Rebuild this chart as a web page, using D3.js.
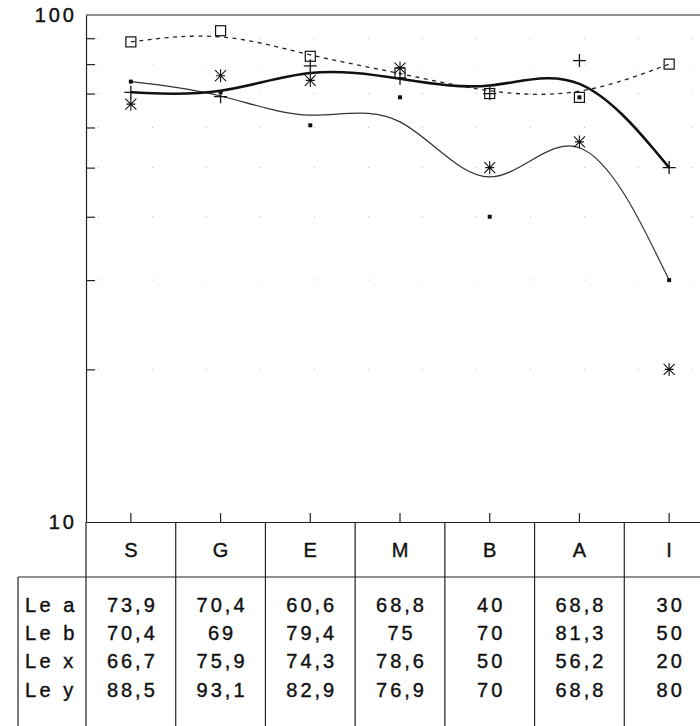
<!DOCTYPE html>
<html>
<head>
<meta charset="utf-8">
<script src="https://cdn.jsdelivr.net/npm/d3@7"></script>
<style>
  html, body { margin: 0; padding: 0; background: #fff; }
  svg { display: block; }
  text { font-family: 'Liberation Sans', Arial, sans-serif; fill: #111; }
</style>
</head>
<body>
<div id="chart"></div>
<script>
const categories = ['S', 'G', 'E', 'M', 'B', 'A', 'I'];
const rowLabels = ['Le a', 'Le b', 'Le x', 'Le y'];
const leA = [73.9, 70.4, 60.6, 68.8, 40, 68.8, 30];
const leB = [70.4, 69, 79.4, 75, 70, 81.3, 50];
const leX = [66.7, 75.9, 74.3, 78.6, 50, 56.2, 20];
const leY = [88.5, 93.1, 82.9, 76.9, 70, 68.8, 80];
const yTicks = [20, 30, 40, 50, 60, 70, 80, 90];
const yLabels = [100, 10];

const width = 700, height = 726;
const plotLeft = 86, plotTop = 15, plotBottom = 522;
const headerBottom = 577, labelLeft = 18;

const svg = d3.select('#chart').append('svg')
  .attr('width', width)
  .attr('height', height);

const x = d3.scaleBand().domain(categories).range([plotLeft, 714]);
const y = d3.scaleLog().domain([10, 100]).range([plotBottom, plotTop]);
const cx = c => x(c) + x.bandwidth() / 2;

// faint dotted grid (mostly lost in the print)
svg.append('g')
  .selectAll('line')
  .data(yTicks)
  .join('line')
  .attr('x1', plotLeft + 12).attr('x2', 714)
  .attr('y1', d => y(d)).attr('y2', d => y(d))
  .attr('stroke', '#bbb')
  .attr('stroke-width', 1)
  .attr('stroke-dasharray', '1,53');

// frame
svg.append('line')
  .attr('x1', plotLeft).attr('x2', 714).attr('y1', plotTop).attr('y2', plotTop)
  .attr('stroke', '#222').attr('stroke-width', 1.2);

const yAxis = svg.append('g')
  .attr('transform', `translate(${plotLeft},0)`)
  .call(d3.axisRight(y).tickValues(yTicks).tickSize(9).tickSizeOuter(0).tickFormat(''));
yAxis.select('.domain').attr('stroke', '#222').attr('stroke-width', 1.2);
yAxis.selectAll('.tick line').attr('stroke', '#222').attr('stroke-width', 1.2);

const xAxis = svg.append('g')
  .attr('transform', `translate(0,${plotBottom})`)
  .call(d3.axisTop(x).tickSize(9).tickSizeOuter(0).tickFormat(''));
xAxis.select('.domain').attr('stroke', '#222').attr('stroke-width', 1.2);
xAxis.selectAll('.tick line').attr('stroke', '#222').attr('stroke-width', 1.2);

svg.append('g')
  .selectAll('text')
  .data(yLabels)
  .join('text')
  .attr('x', 77)
  .attr('y', d => y(d) + 7)
  .attr('text-anchor', 'end')
  .attr('font-size', 20)
  .attr('letter-spacing', 3)
  .attr('stroke', '#111').attr('stroke-width', 0.4)
  .text(d => d);

// smoothed curves
const line = d3.line()
  .x((d, i) => cx(categories[i]))
  .y(d => y(d))
  .curve(d3.curveBasis);

svg.append('path').datum(leA)
  .attr('d', line).attr('fill', 'none')
  .attr('stroke', '#333').attr('stroke-width', 1.2);

svg.append('path').datum(leY)
  .attr('d', line).attr('fill', 'none')
  .attr('stroke', '#222').attr('stroke-width', 1.3)
  .attr('stroke-dasharray', '4,4.5');

svg.append('path').datum(leB)
  .attr('d', line).attr('fill', 'none')
  .attr('stroke', '#111').attr('stroke-width', 2.6);

// markers
const marks = svg.append('g');

marks.selectAll('rect.a')
  .data(leA)
  .join('rect')
  .attr('class', 'a')
  .attr('x', (d, i) => cx(categories[i]) - 2)
  .attr('y', d => y(d) - 2)
  .attr('width', 4).attr('height', 4)
  .attr('fill', '#111');

marks.selectAll('path.b')
  .data(leB)
  .join('path')
  .attr('class', 'b')
  .attr('transform', (d, i) => `translate(${cx(categories[i])},${y(d)})`)
  .attr('d', 'M-6.5,0H6.5M0,-6.5V6.5')
  .attr('stroke', '#111').attr('stroke-width', 1.3);

marks.selectAll('path.x')
  .data(leX)
  .join('path')
  .attr('class', 'x')
  .attr('transform', (d, i) => `translate(${cx(categories[i])},${y(d)})`)
  .attr('d', 'M0,-6.5V6.5M-5.5,-5.5L5.5,5.5M-5.5,5.5L5.5,-5.5M-4.5,0H4.5')
  .attr('stroke', '#111').attr('stroke-width', 1.1);

marks.selectAll('rect.y')
  .data(leY)
  .join('rect')
  .attr('class', 'y')
  .attr('x', (d, i) => cx(categories[i]) - 5)
  .attr('y', d => y(d) - 5)
  .attr('width', 10).attr('height', 10)
  .attr('fill', 'none')
  .attr('stroke', '#111').attr('stroke-width', 1.2);

// table
const table = svg.append('g').attr('stroke', '#222').attr('stroke-width', 1.2);

table.selectAll('line.col')
  .data(categories)
  .join('line')
  .attr('class', 'col')
  .attr('x1', d => x(d)).attr('x2', d => x(d))
  .attr('y1', plotBottom).attr('y2', height);

table.append('line')
  .attr('x1', labelLeft).attr('x2', labelLeft)
  .attr('y1', headerBottom).attr('y2', height);

table.append('line')
  .attr('x1', labelLeft).attr('x2', 714)
  .attr('y1', headerBottom).attr('y2', headerBottom);

svg.append('g')
  .selectAll('text')
  .data(categories)
  .join('text')
  .attr('x', d => cx(d) + 1.5)
  .attr('y', 557)
  .attr('text-anchor', 'middle')
  .attr('font-size', 20)
  .attr('letter-spacing', 3)
  .attr('stroke', '#111').attr('stroke-width', 0.4)
  .text(d => d);

const rows = [leA, leB, leX, leY];
const rowY = [612, 640, 668, 697];
const fmt = v => String(v).replace('.', ',');

rows.forEach((vals, r) => {
  svg.append('text')
    .attr('x', 25)
    .attr('y', rowY[r])
    .attr('font-size', 20)
    .attr('letter-spacing', 3.5)
    .attr('stroke', '#111').attr('stroke-width', 0.4)
    .text(rowLabels[r]);

  svg.append('g')
    .selectAll('text')
    .data(vals)
    .join('text')
    .attr('x', (d, i) => cx(categories[i]) + 1.5)
    .attr('y', rowY[r])
    .attr('text-anchor', 'middle')
    .attr('font-size', 20)
    .attr('letter-spacing', 3)
    .attr('stroke', '#111').attr('stroke-width', 0.4)
    .text(fmt);
});
</script>
</body>
</html>
